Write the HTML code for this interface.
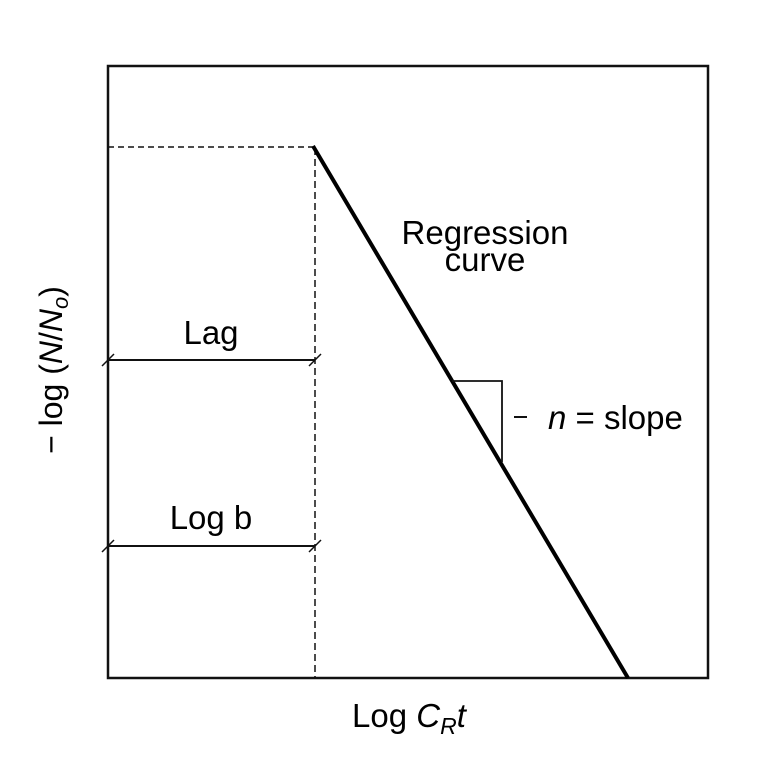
<!DOCTYPE html>
<html><head><style>body{margin:0;background:#fff}</style></head>
<body>
<svg width="775" height="764" xmlns="http://www.w3.org/2000/svg" font-family="Liberation Sans, Arial, sans-serif">
<rect x="108" y="66" width="600" height="612" fill="none" stroke="#111" stroke-width="2.5"/>
<line x1="108" y1="147" x2="313" y2="147" stroke="#111" stroke-width="1.5" stroke-dasharray="6,4"/>
<line x1="315" y1="148" x2="315" y2="678" stroke="#111" stroke-width="1.5" stroke-dasharray="7,4"/>
<line x1="313" y1="146" x2="628" y2="678" stroke="#000" stroke-width="4"/>
<line x1="108" y1="360" x2="315" y2="360" stroke="#111" stroke-width="2"/>
<line x1="102" y1="366" x2="114" y2="354" stroke="#111" stroke-width="1.5"/>
<line x1="309" y1="366" x2="321" y2="354" stroke="#111" stroke-width="1.5"/>
<line x1="108" y1="546" x2="315" y2="546" stroke="#111" stroke-width="2"/>
<line x1="102" y1="552" x2="114" y2="540" stroke="#111" stroke-width="1.5"/>
<line x1="309" y1="552" x2="321" y2="540" stroke="#111" stroke-width="1.5"/>
<polyline points="452,381 502,381 502,462" fill="none" stroke="#111" stroke-width="1.8"/>
<text x="211" y="344" font-size="33" text-anchor="middle">Lag</text>
<text x="211" y="529" font-size="33" text-anchor="middle">Log b</text>
<text x="485" y="244" font-size="33" text-anchor="middle">Regression</text>
<text x="485" y="271" font-size="33" text-anchor="middle">curve</text>
<line x1="514" y1="417" x2="527" y2="417" stroke="#111" stroke-width="2"/>
<text x="548" y="429" font-size="33"><tspan font-style="italic">n</tspan> = slope</text>
<text x="352" y="727" font-size="33">Log <tspan font-style="italic">C</tspan><tspan font-style="italic" font-size="23" dy="7">R</tspan><tspan font-style="italic" dy="-7">t</tspan></text>
<text transform="translate(62,370) rotate(-90)" font-size="32" text-anchor="middle">− log (<tspan font-style="italic">N</tspan>/<tspan font-style="italic">N</tspan><tspan font-size="22" dy="6" font-style="italic">o</tspan><tspan dy="-6">)</tspan></text>
</svg>
</body></html>
